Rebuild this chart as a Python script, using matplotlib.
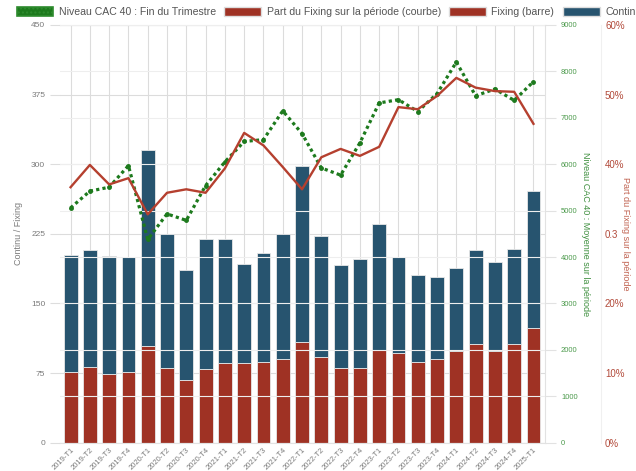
import numpy as np
import matplotlib
matplotlib.use("Agg")
import matplotlib.pyplot as plt
from matplotlib.patches import Patch
from matplotlib.ticker import FuncFormatter

# === DONNÉES ===
trimestres = ["2019-T1", "2019-T2", "2019-T3", "2019-T4", "2020-T1", "2020-T2", "2020-T3",
              "2020-T4", "2021-T1", "2021-T2", "2021-T3", "2021-T4", "2022-T1", "2022-T2",
              "2022-T3", "2022-T4", "2023-T1", "2023-T2", "2023-T3", "2023-T4", "2024-T1",
              "2024-T2", "2024-T3", "2024-T4", "2025-T1"]
fixing = [76, 82, 74, 76, 104, 81, 68, 79, 86, 86, 87, 90, 108,
          92, 80, 81, 100, 97, 87, 90, 99, 106, 99, 106, 124]
total = [202, 208, 201, 200, 315, 225, 186, 219, 219, 193, 204, 225, 298,
         223, 191, 198, 236, 200, 181, 179, 188, 208, 195, 209, 271]
continu = [t - f for t, f in zip(total, fixing)]
cac40 = [5060, 5420, 5505, 5970, 4380, 4930, 4790, 5540, 6050, 6490, 6530, 7150, 6660,
         5920, 5765, 6460, 7320, 7390, 7135, 7520, 8200, 7475, 7620, 7375, 7780]
part_fixing = [0.367, 0.399, 0.371, 0.380, 0.328, 0.359, 0.364, 0.359, 0.394, 0.445, 0.427,
               0.396, 0.364, 0.410, 0.422, 0.412, 0.425, 0.482, 0.479, 0.498, 0.524, 0.510,
               0.505, 0.504, 0.458]

# === COULEURS ===
ROUGE = "#9f3224"
BLEU = "#27546f"
VERT = "#1d7a1d"
ROUGE_LIGNE = "#b5402f"
GRIS = "#7a7a7a"

plt.rcParams['font.family'] = ['Liberation Sans', 'DejaVu Sans']

fig = plt.figure(figsize=(6.36, 4.71), dpi=100)
ax = fig.add_axes([0.094, 0.06, 0.763, 0.887])
x = np.arange(len(trimestres))

# === BARRES ===
ax.bar(x, fixing, width=0.72, color=ROUGE, edgecolor="#e8e8e8", linewidth=0.6, zorder=2)
ax.bar(x, continu, width=0.72, bottom=fixing, color=BLEU, edgecolor="#e8e8e8",
       linewidth=0.6, zorder=2)
ax.set_ylim(0, 450)
ax.set_xlim(-0.56, 24.6)
ax.set_yticks(np.arange(0, 451, 75))
ax.set_xticks(x)
ax.set_xticklabels(trimestres, rotation=45, ha="right", rotation_mode="anchor",
                   fontsize=5.5, color=GRIS)
ax.tick_params(axis="y", labelsize=6, colors=GRIS, length=7, color="#dddddd")
ax.tick_params(axis="x", length=0, pad=3)
ax.set_ylabel("Continu / Fixing", fontsize=6.5, color=GRIS, labelpad=6)
ax.grid(True, axis="both", color="#dcdcdc", linewidth=0.8, zorder=0)
ax.set_axisbelow(True)
for s in ax.spines.values():
    s.set_color("#e2e2e2")
ax.spines['left'].set_visible(False)

# === AXE CAC 40 ===
ax2 = ax.twinx()
ax2.plot(x, cac40, color=VERT, linestyle=(0, (1, 1)), linewidth=2.3,
         marker="o", markersize=2.5, zorder=4)
ax2.set_ylim(0, 9000)
ax2.set_yticks(np.arange(0, 9001, 1000))
ax2.tick_params(axis="y", labelsize=5.5, colors="#4c9a4c", length=8, color="#e2e2e2")
ax2.grid(True, axis="y", color="#eeeeee", linewidth=0.8)
ax2.set_ylabel("Niveau CAC 40 : Moyenne sur la période", fontsize=6.5, color="#3f8f3f",
               rotation=270, labelpad=9)
for s in ax2.spines.values():
    s.set_visible(False)

# === AXE PART DU FIXING ===
ax3 = ax.twinx()
ax3.spines['right'].set_position(('axes', 1.115))
ax3.plot(x, part_fixing, color=ROUGE_LIGNE, linewidth=1.7, zorder=5)
ax3.set_ylim(0, 0.6)
ax3.set_yticks(np.arange(0, 0.61, 0.1))
ax3.yaxis.set_major_formatter(FuncFormatter(
    lambda v, p: "0.3" if abs(v - 0.3) < 1e-6 else f"{v * 100:.0f}%"))
ax3.tick_params(axis="y", labelsize=7, colors="#b24a3a", length=0, pad=3)
ax3.set_ylabel("Part du Fixing sur la période", fontsize=6.5, color="#c0614f",
               rotation=270, labelpad=4)
for s in ax3.spines.values():
    s.set_visible(False)
ax3.spines['right'].set_visible(True)
ax3.spines['right'].set_color("#f0f0f0")

# === LÉGENDE ===
# (la dernière entrée est tronquée dans l'original : "Contin")
handles = [
    Patch(facecolor=VERT, edgecolor="#2e8b2e", hatch="....", linewidth=1.2),
    Patch(facecolor=ROUGE, edgecolor="#dddddd"),
    Patch(facecolor=ROUGE, edgecolor="#dddddd"),
    Patch(facecolor=BLEU, edgecolor="#dddddd"),
]
labels = ["Niveau CAC 40 : Fin du Trimestre", "Part du Fixing sur la période (courbe)",
          "Fixing (barre)", "Contin"]
fig.legend(handles, labels, loc="center left", bbox_to_anchor=(0.026, 0.974), ncol=4,
           frameon=False, fontsize=7.6, labelcolor="#555555", handlelength=3.5,
           handleheight=0.9, columnspacing=0.8, handletextpad=0.5, borderpad=0,
           borderaxespad=0)

fig.savefig("out.png", dpi=100)
